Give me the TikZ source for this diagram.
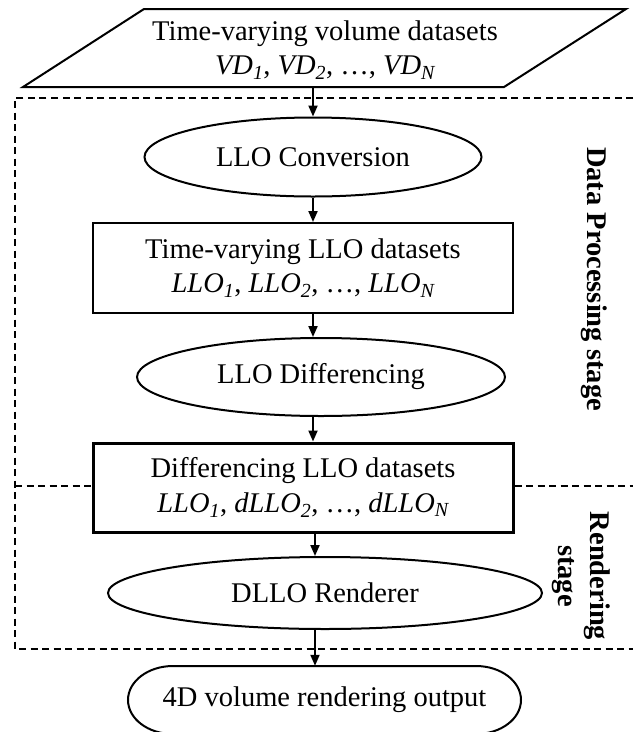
\documentclass[tikz,border=0pt]{standalone}
\usepackage{fontspec}
\setmainfont{Liberation Serif}
\usetikzlibrary{shapes.geometric,arrows.meta}
\begin{document}
\begin{tikzpicture}[x=1pt,y=-1pt,
  every node/.style={font=\fontsize{28.5}{34.5}\selectfont, inner sep=0pt},
  thinline/.style={line width=2pt},
  ell/.style={ellipse, draw, thinline},
  boxnode/.style={rectangle, draw, thinline, align=center},
  arr/.style={thinline, -{Triangle[length=11pt,width=9pt]}},
  dashline/.style={line width=2pt, dash pattern=on 7pt off 4.5pt},
  stagelbl/.style={font=\fontsize{28.5}{34.5}\selectfont\bfseries, rotate=-90}
]
\useasboundingbox (0,0) rectangle (633,732);

% input parallelogram
\draw[line width=2pt, line join=miter] (144,9) -- (626,9) -- (504,87) -- (23,87) -- cycle;
\node[align=center] (in) at (325,50) {Time-varying volume datasets\\
  \itshape VD\textsubscript{1}\upshape, \itshape VD\textsubscript{2}\upshape, \ldots, \itshape VD\textsubscript{N}};
\coordinate (inb) at (313,87);

% dashed stage frame
\draw[dashline] (633,98) -- (15,98) -- (15,649) -- (633,649);

% nodes
\node[ell, minimum width=337pt, minimum height=79pt] (conv) at (313,157) {LLO Conversion};
\node[boxnode, minimum width=420pt, minimum height=90pt] (b1) at (303,268)
  {Time-varying LLO datasets\\ \itshape LLO\textsubscript{1}\upshape, \itshape LLO\textsubscript{2}\upshape, \ldots, \itshape LLO\textsubscript{N}};
\node[ell, minimum width=368pt, minimum height=78pt] (diff) at (321,377) {LLO Differencing};
\node[boxnode, line width=3pt, minimum width=420pt, minimum height=89pt] (b2) at (303,487.5)
  {Differencing LLO datasets\\ \itshape LLO\textsubscript{1}\upshape, \itshape dLLO\textsubscript{2}\upshape, \ldots, \itshape dLLO\textsubscript{N}};
\node[ell, minimum width=434pt, minimum height=72pt] (rend) at (325,593) {DLLO Renderer};
\node[minimum width=393pt, minimum height=68pt] (out) at (324.5,700) {};
\draw[thinline] (173,666) -- (476,666) arc[start angle=-90, end angle=90, x radius=45, y radius=34]
  -- (173,734) arc[start angle=90, end angle=270, x radius=45, y radius=34] -- cycle;
\node at (out.center) {4D volume rendering output};

% separator
\coordinate (sepL) at (15,486);
\coordinate (sepR) at (633,486);
\draw[dashline] (sepL) -- (sepL -| b2.west);
\draw[dashline] (b2.east |- sepR) -- (sepR);

% stage labels
\node[stagelbl] (dps) at (594,279) {Data Processing stage};
\node[stagelbl] (rs1) at (597,576) {Rendering};
\node[stagelbl] (rs2) at (563,576) {stage};

% arrows
\coordinate (colA) at (313,0);
\coordinate (colB) at (315,0);
\draw[arr] (inb) -- (inb |- conv.north);
\draw[arr] (colA |- conv.south) -- (colA |- b1.north);
\draw[arr] (colA |- b1.south) -- (colA |- diff.north);
\draw[arr] (colA |- diff.south) -- (colA |- b2.north);
\draw[arr] (colB |- b2.south) -- (colB |- rend.north);
\draw[arr] (colB |- rend.south) -- (colB |- out.north);
\end{tikzpicture}
\end{document}
